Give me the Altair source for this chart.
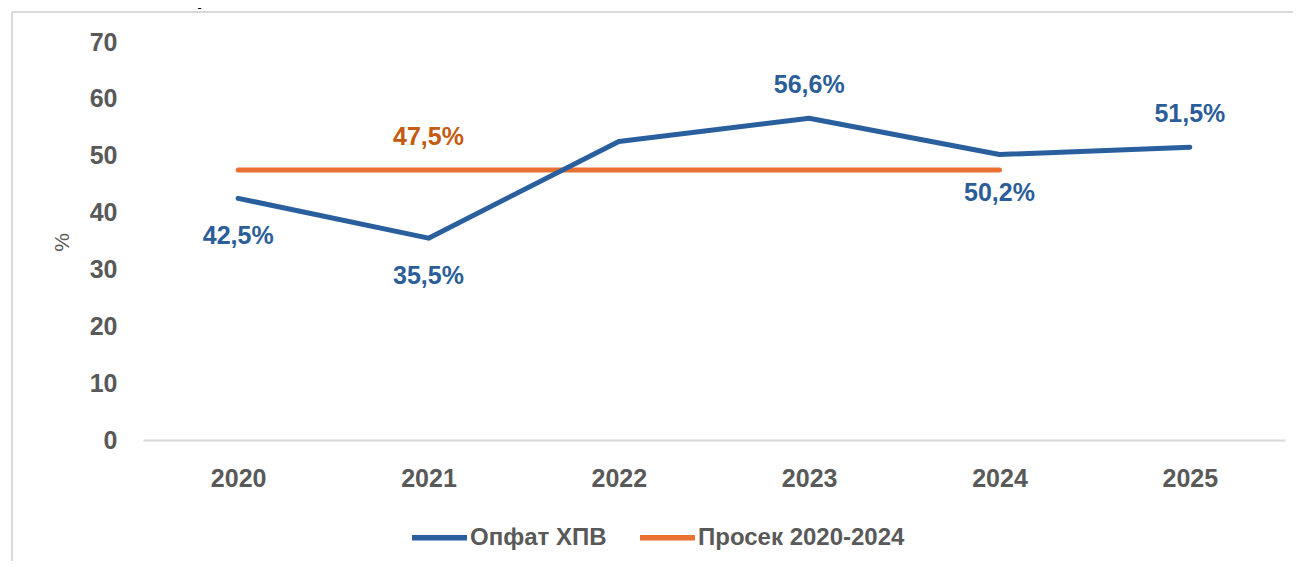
import altair as alt
import pandas as pd

# ---- data ----
years = ["2020", "2021", "2022", "2023", "2024", "2025"]
coverage = [42.5, 35.5, 52.5, 56.6, 50.2, 51.5]
coverage_labels = ["42,5%", "35,5%", "", "56,6%", "50,2%", "51,5%"]
label_side = ["below", "below", "none", "above", "below", "above"]

avg_years = ["2020", "2021", "2022", "2023", "2024"]
avg_value = 47.5
avg_label = "47,5%"
avg_label_year = "2021"

series_names = ["Опфат ХПВ", "Просек 2020-2024"]
y_ticks = [0, 10, 20, 30, 40, 50, 60, 70]
title_text = "просек за 2020-2024"

BLUE = "#2A5F9E"
BLUE_TXT = "#2B5E98"
ORANGE = "#E97132"
ORANGE_TXT = "#C55A11"
GREY = "#595959"
FONT = "Liberation Sans"

df = pd.DataFrame({
    "year": years,
    "value": coverage,
    "label": coverage_labels,
    "side": label_side,
    "series": series_names[0],
})
avg_df = pd.DataFrame({
    "year": avg_years,
    "value": [avg_value] * len(avg_years),
    "series": series_names[1],
})
avg_lab_df = pd.DataFrame({"year": [avg_label_year], "value": [avg_value], "label": [avg_label]})

x_enc = alt.X(
    "year:O",
    scale=alt.Scale(type="point", padding=0.5, domain=years),
    axis=alt.Axis(
        title=None, labelAngle=0, ticks=False, domain=True, domainColor="#D9D9D9",
        domainWidth=2, labelPadding=38, labelBaseline="middle", labelFontSize=25,
        labelFontWeight="bold", labelColor=GREY, labelFont=FONT, grid=False,
    ),
)
y_enc = alt.Y(
    "value:Q",
    scale=alt.Scale(domain=[0, 70], nice=False),
    axis=alt.Axis(
        title="%", values=y_ticks, ticks=False, domain=False, grid=False,
        labelPadding=26, labelBaseline="middle", labelFontSize=25, labelFontWeight="bold",
        labelColor=GREY, labelFont=FONT, titleFontSize=21, titleFontWeight="normal",
        titleColor=GREY, titleFont=FONT, titleX=-81, titleY=200, titleAngle=270,
        titleAlign="center", titleBaseline="middle",
    ),
)
color_enc = alt.Color(
    "series:N",
    scale=alt.Scale(domain=series_names, range=[BLUE, ORANGE]),
    legend=alt.Legend(
        title=None, orient="none", legendX=266, legendY=465, direction="horizontal",
        symbolType="stroke", symbolSize=3025, symbolStrokeWidth=5.5,
        labelFontSize=24, labelFontWeight="bold", labelColor=GREY, labelFont=FONT,
        labelLimit=500, columnPadding=22, labelOffset=0,
    ),
)

blue_line = alt.Chart(df).mark_line(strokeWidth=5, strokeCap="round", strokeJoin="round").encode(
    x=x_enc, y=y_enc, color=color_enc
)
avg_line = alt.Chart(avg_df).mark_line(strokeWidth=5, strokeCap="round").encode(
    x=x_enc, y=y_enc, color=color_enc
)

lab_above = alt.Chart(df).transform_filter("datum.side == 'above'").mark_text(
    fontSize=25, fontWeight="bold", font=FONT, color=BLUE_TXT, dy=-33, baseline="middle"
).encode(x=x_enc, y=y_enc, text="label:N")
lab_below = alt.Chart(df).transform_filter("datum.side == 'below'").mark_text(
    fontSize=25, fontWeight="bold", font=FONT, color=BLUE_TXT, dy=38, baseline="middle"
).encode(x=x_enc, y=y_enc, text="label:N")
avg_text = alt.Chart(avg_lab_df).mark_text(
    fontSize=25, fontWeight="bold", font=FONT, color=ORANGE_TXT, dy=-33, baseline="middle"
).encode(x=x_enc, y=y_enc, text="label:N")

one = alt.Data(values=[{"t": title_text}])
frame_top = alt.Chart(one).mark_rule(color="#D9D9D9", strokeWidth=2).encode(
    x=alt.value(-131), x2=alt.value(1150), y=alt.value(-30)
)
frame_left = alt.Chart(one).mark_rule(color="#D9D9D9", strokeWidth=2).encode(
    x=alt.value(-131), y=alt.value(-30), y2=alt.value(520)
)
title_mark = alt.Chart(one).mark_text(
    fontSize=22, fontWeight="bold", fontStyle="italic", font=FONT, color="#000000",
    align="left", baseline="bottom",
).encode(x=alt.value(42), y=alt.value(-33), text="t:N")

chart = alt.layer(
    frame_top, frame_left, title_mark, avg_line, blue_line, lab_above, lab_below, avg_text
).properties(
    width=1142, height=398,
    autosize=alt.AutoSizeParams(type="none"),
    padding={"left": 135, "top": 34, "right": 8, "bottom": 121},
).configure(background="white").configure_view(strokeWidth=0, stroke="transparent")

chart.save("out.html", embed_options={"renderer": "svg", "actions": False})
